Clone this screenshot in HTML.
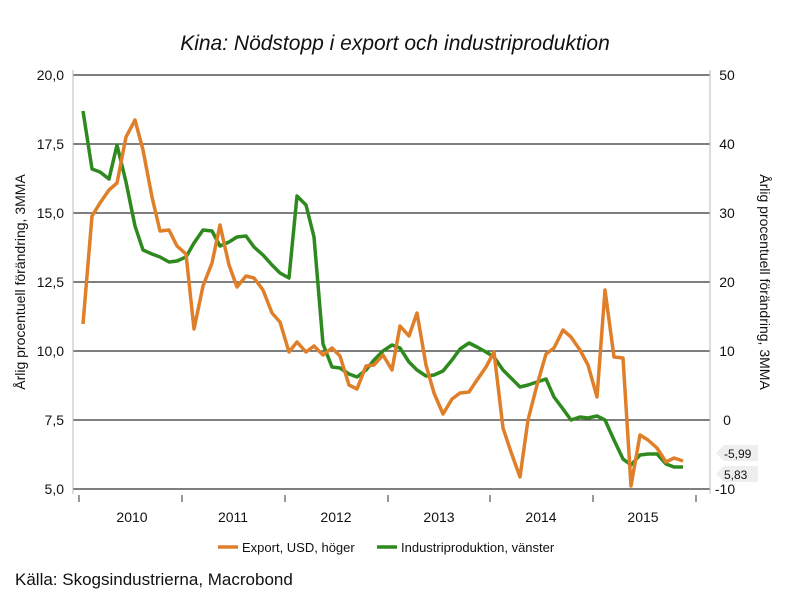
<!DOCTYPE html><html><head><meta charset="utf-8"><style>body{margin:0;background:#fff;font-family:"Liberation Sans",sans-serif}</style></head><body>
<svg width="790" height="594" xmlns="http://www.w3.org/2000/svg" font-family="Liberation Sans, sans-serif">
<rect width="790" height="594" fill="#fff"/>
<text x="395" y="50" font-size="21" font-style="italic" text-anchor="middle" fill="#111">Kina: Nödstopp i export och industriproduktion</text>
<g stroke="#333" stroke-width="1.3">
<line x1="73" y1="75" x2="710" y2="75"/><line x1="73" y1="144" x2="710" y2="144"/><line x1="73" y1="213" x2="710" y2="213"/><line x1="73" y1="282" x2="710" y2="282"/><line x1="73" y1="351" x2="710" y2="351"/><line x1="73" y1="420" x2="710" y2="420"/><line x1="73" y1="489" x2="710" y2="489"/>
</g>
<line x1="73" y1="70" x2="73" y2="494" stroke="#bbb"/><line x1="710" y1="70" x2="710" y2="494" stroke="#bbb"/>
<g stroke="#333"><line x1="79" y1="495" x2="79" y2="502"/><line x1="182" y1="495" x2="182" y2="502"/><line x1="285" y1="495" x2="285" y2="502"/><line x1="388" y1="495" x2="388" y2="502"/><line x1="490" y1="495" x2="490" y2="502"/><line x1="593" y1="495" x2="593" y2="502"/><line x1="696" y1="495" x2="696" y2="502"/></g>
<g font-size="14" fill="#111" text-anchor="end">
<text x="64" y="80">20,0</text><text x="64" y="149">17,5</text><text x="64" y="218">15,0</text><text x="64" y="287">12,5</text><text x="64" y="356">10,0</text><text x="64" y="425">7,5</text><text x="64" y="494">5,0</text></g>
<g font-size="14" fill="#111" text-anchor="middle">
<text x="727" y="80">50</text><text x="727" y="149">40</text><text x="727" y="218">30</text><text x="727" y="287">20</text><text x="727" y="356">10</text><text x="727" y="425">0</text><text x="725" y="494">-10</text>
<text x="132" y="522">2010</text><text x="233" y="522">2011</text><text x="336" y="522">2012</text><text x="439" y="522">2013</text><text x="541" y="522">2014</text><text x="643" y="522">2015</text></g>
<text transform="translate(25,282) rotate(-90)" font-size="14" text-anchor="middle" fill="#111">Årlig procentuell förändring, 3MMA</text>
<text transform="translate(760,282) rotate(90)" font-size="14" text-anchor="middle" fill="#111">Årlig procentuell förändring, 3MMA</text>
<polygon points="716,453 724,445 758,445 758,461 724,461" fill="#eee"/><text x="724" y="458" font-size="12" fill="#111">-5,99</text>
<polygon points="716,474 724,466 758,466 758,482 724,482" fill="#eee"/><text x="724" y="479" font-size="12" fill="#111">5,83</text>
<polyline fill="none" stroke="#2e8a1e" stroke-width="3.5" stroke-linejoin="round" points="83,111 92,169 100,172 109,179 117,145 126,182 135,226 143,250 152,254 160,257 169,262 177,261 186,257 194,243 203,230 212,231 220,246 229,242 237,237 246,236 254,247 263,255 272,265 280,273 289,278 297,196 306,205 314,237 323,344 332,367 340,368 349,374 357,377 366,370 374,360 383,351 392,345 400,348 409,362 417,370 426,376 434,375 443,371 452,360 460,349 469,343 477,347 486,352 494,357 503,370 511,378 520,387 528,385 537,382 546,379 554,397 563,409 571,420 580,417 588,418 597,416 605,420 614,440 623,459 631,465 640,455 648,454 657,454 666,464 674,467 683,467"/>
<polyline fill="none" stroke="#e07f2a" stroke-width="3.5" stroke-linejoin="round" points="83,324 92,216 100,203 109,190 117,183 126,137 135,120 143,150 152,197 160,231 169,230 177,246 186,254 194,329 203,286 212,263 220,225 229,265 237,287 246,276 254,278 263,290 272,313 280,322 289,352 297,342 306,352 314,346 323,355 332,348 340,356 349,385 357,389 366,366 374,365 383,355 392,370 400,326 409,336 417,313 426,365 434,393 443,414 452,399 460,393 469,392 477,380 486,367 494,352 503,428 511,452 520,477 528,420 537,385 546,354 554,348 563,330 571,337 580,350 588,365 597,397 605,290 614,357 623,358 631,486 640,435 648,440 657,448 666,462 674,458 683,461"/>
<line x1="218" y1="547" x2="238" y2="547" stroke="#e07f2a" stroke-width="3.5"/><text x="242" y="552" font-size="13" fill="#111">Export, USD, höger</text>
<line x1="377" y1="547" x2="397" y2="547" stroke="#2e8a1e" stroke-width="3.5"/><text x="401" y="552" font-size="13" fill="#111">Industriproduktion, vänster</text>
<text x="15" y="585" font-size="17" fill="#111">Källa: Skogsindustrierna, Macrobond</text>
</svg></body></html>
